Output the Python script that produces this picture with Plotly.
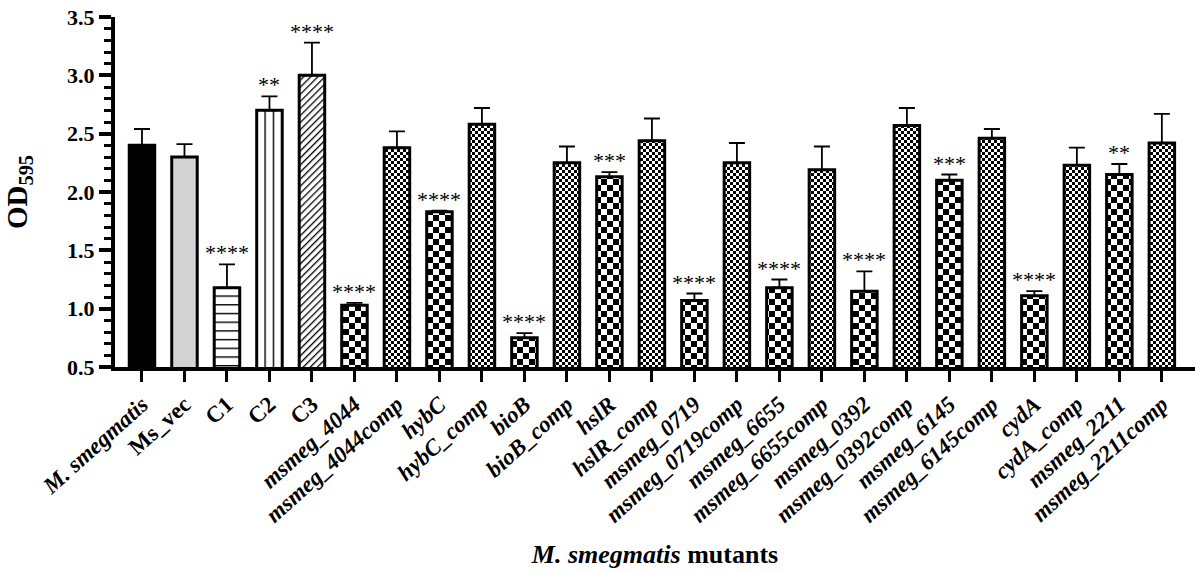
import json
import plotly.graph_objects as go

# Strains / mutants on the x axis
strains = [
    "M. smegmatis", "Ms_vec", "C1", "C2", "C3",
    "msmeg_4044", "msmeg_4044comp", "hybC", "hybC_comp", "bioB", "bioB_comp",
    "hslR", "hslR_comp", "msmeg_0719", "msmeg_0719comp", "msmeg_6655",
    "msmeg_6655comp", "msmeg_0392", "msmeg_0392comp", "msmeg_6145",
    "msmeg_6145comp", "cydA", "cydA_comp", "msmeg_2211", "msmeg_2211comp",
]
# Mean OD595
od_mean = [
    2.40, 2.30, 1.18, 2.70, 3.00,
    1.03, 2.38, 1.83, 2.58, 0.75, 2.25,
    2.13, 2.44, 1.07, 2.25, 1.18,
    2.19, 1.15, 2.57, 2.10,
    2.46, 1.11, 2.23, 2.15, 2.42,
]
# Upper error (SD)
od_err = [
    0.14, 0.11, 0.20, 0.12, 0.28,
    0.02, 0.14, 0.01, 0.14, 0.04, 0.14,
    0.04, 0.19, 0.06, 0.17, 0.07,
    0.20, 0.17, 0.15, 0.05,
    0.08, 0.04, 0.15, 0.09, 0.25,
]
# Significance marks
signif = [
    "", "", "****", "**", "****",
    "****", "", "****", "", "****", "",
    "***", "", "****", "", "****",
    "", "****", "", "***",
    "", "****", "", "**", "",
]

SERIF = "Liberation Serif, Times New Roman, serif"
upright = {"Ms_vec", "C1", "C2", "C3"}


def tick_label(name):
    if name in upright:
        return f"<b>{name}</b>"
    return f"<b><i>{name}</i></b>"


def fill_kind(i, name):
    if i == 0:
        return "black"
    if name == "Ms_vec":
        return "grey"
    if name == "C1":
        return "hline"
    if name == "C2":
        return "vline"
    if name == "C3":
        return "diag"
    return "fine" if name.endswith("comp") else "coarse"


kinds = [fill_kind(i, s) for i, s in enumerate(strains)]
colors = [{"black": "#000000", "grey": "#d3d3d3"}.get(k, "#ffffff") for k in kinds]

fig = go.Figure()
fig.add_trace(go.Bar(
    x=strains,
    y=od_mean,
    width=0.6,
    marker=dict(color=colors, line=dict(color="#000000", width=3)),
    error_y=dict(type="data", symmetric=False, array=od_err,
                 arrayminus=[0] * len(od_err), color="#000000",
                 thickness=1.8, width=8),
    showlegend=False,
))

for s, m, e, mark in zip(strains, od_mean, od_err, signif):
    if mark:
        fig.add_annotation(
            x=s, y=m + e, text=mark, showarrow=False, yanchor="bottom",
            yshift=-3,
            font=dict(family=SERIF, size=22, color="#000000"),
        )

fig.update_layout(
    width=1195, height=572,
    margin=dict(l=115, r=0, t=17, b=205),
    paper_bgcolor="#ffffff", plot_bgcolor="#ffffff",
    font=dict(family=SERIF, color="#000000"),
)
fig.update_xaxes(
    range=[-0.635, 24.78],
    tickmode="array", tickvals=strains, ticktext=[tick_label(s) for s in strains],
    tickangle=-42,
    tickfont=dict(family=SERIF, size=23, color="#000000"),
    showline=True, linecolor="#000000", linewidth=4,
    ticks="outside", ticklen=11, tickwidth=3, tickcolor="#000000",
    showgrid=False, zeroline=False,
    title=dict(text="<b><i>M. smegmatis</i> mutants</b>",
               font=dict(family=SERIF, size=26, color="#000000"), standoff=19),
)
fig.update_yaxes(
    range=[0.5, 3.5],
    tickmode="linear", tick0=0.5, dtick=0.5, tickformat=".1f",
    tickfont=dict(family=SERIF, size=22, color="#000000", weight="bold"),
    showline=True, linecolor="#000000", linewidth=4,
    ticks="outside", ticklen=12, tickwidth=3.5, tickcolor="#000000",
    minor=dict(dtick=0.1, ticks="outside", ticklen=7, tickwidth=3, tickcolor="#000000"),
    showgrid=False, zeroline=False,
    title=dict(text="<b>OD<sub>595</sub></b>",
               font=dict(family=SERIF, size=29, color="#000000"), standoff=32),
)

# Hatched and checkerboard fills for the bars
fill_js = """
var gd = document.querySelector('.js-plotly-plot');
var NS = 'http://www.w3.org/2000/svg';
var defs = gd.querySelector('.main-svg defs');
function rect(x, y, w, h, c) {
  var r = document.createElementNS(NS, 'rect');
  r.setAttribute('x', x); r.setAttribute('y', y);
  r.setAttribute('width', w); r.setAttribute('height', h);
  r.setAttribute('fill', c);
  return r;
}
function pat(id, w, h, rects, transform) {
  var p = document.createElementNS(NS, 'pattern');
  p.setAttribute('id', id);
  p.setAttribute('patternUnits', 'userSpaceOnUse');
  p.setAttribute('width', w); p.setAttribute('height', h);
  if (transform) { p.setAttribute('patternTransform', transform); }
  p.appendChild(rect(0, 0, w, h, '#ffffff'));
  rects.forEach(function (r) { p.appendChild(rect(r[0], r[1], r[2], r[3], '#000000')); });
  defs.appendChild(p);
}
pat('fill-coarse', 12, 12, [[0, 0, 6, 6], [6, 6, 6, 6]]);
pat('fill-fine', 6, 6, [[0, 0, 3, 3], [3, 3, 3, 3]]);
pat('fill-hline', 10, 8.7, [[0, 0, 10, 1.4]]);
pat('fill-vline', 8.3, 10, [[0, 0, 1.4, 10]]);
pat('fill-diag', 5, 10, [[0, 0, 1.3, 10]], 'rotate(45)');
var kinds = KINDS;
var paths = gd.querySelectorAll('.barlayer .point path');
paths.forEach(function (el, i) {
  var k = kinds[i];
  if (k === 'coarse' || k === 'fine' || k === 'hline' || k === 'vline' || k === 'diag') {
    el.style.fill = 'url(#fill-' + k + ')';
  }
});
""".replace("KINDS", json.dumps(kinds))

fig.write_html("out.html", post_script=fill_js)
